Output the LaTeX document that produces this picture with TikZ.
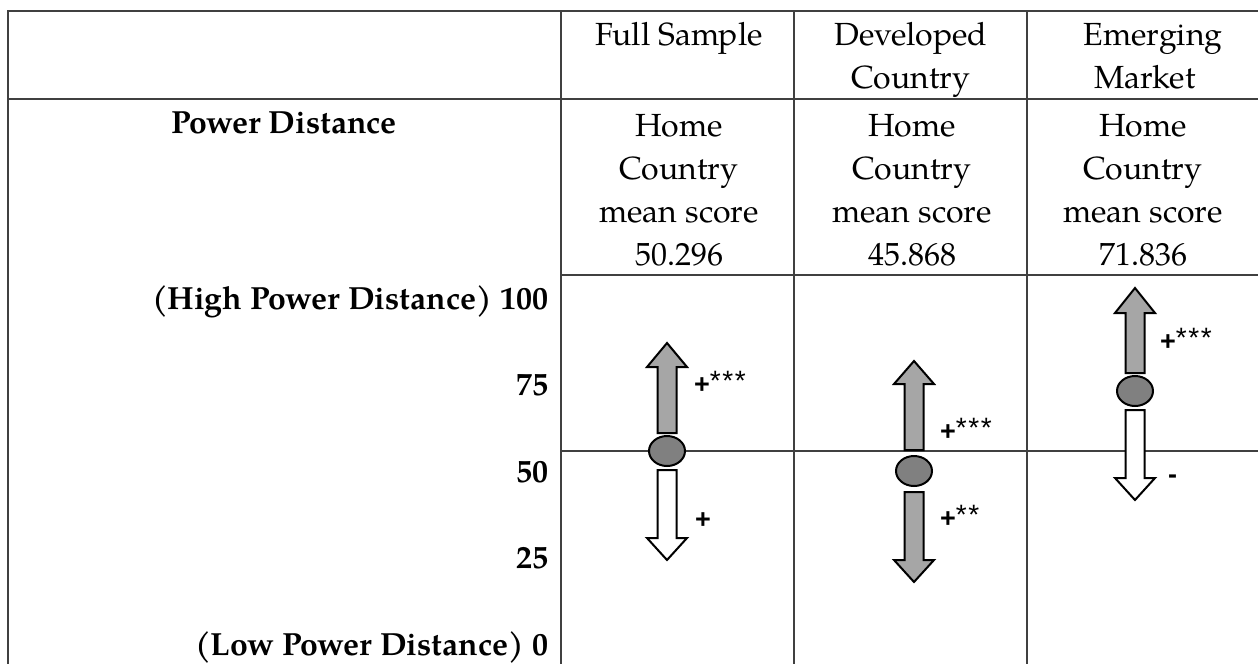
\documentclass[tikz,border=0pt]{standalone}
\usepackage{fontspec}
\setmainfont{TeX Gyre Pagella}
\newfontfamily\sigfont{Liberation Sans}
\usetikzlibrary{shapes.geometric}
\definecolor{rulegray}{HTML}{404040}
\definecolor{barfill}{HTML}{A6A6A6}
\definecolor{dotfill}{HTML}{808080}

% x, shaft end, head base, tip, fill
\newcommand{\blockarrow}[5]{%
  \draw[arrowbody,fill=#5] (#1-9.5,#2) -- (#1-9.5,#3) -- (#1-20,#3) -- (#1,#4)
    -- (#1+20,#3) -- (#1+9.5,#3) -- (#1+9.5,#2) -- cycle;}
\newcommand{\starsig}[1]{\raisebox{1.5pt}{\mdseries\fontsize{14}{15}\selectfont#1}}

\begin{document}
\begin{tikzpicture}[x=0.5pt,y=-0.5pt,
				every node/.style={inner sep=0pt,outer sep=0pt},
				cell/.style={font=\fontsize{16}{21.5}\selectfont,anchor=base},
				scalelabel/.style={font=\fontsize{16}{21.5}\selectfont\bfseries,anchor=base east},
				sig/.style={font=\sigfont\bfseries\fontsize{13.5}{15}\selectfont,anchor=base west},
				grid/.style={draw=rulegray,line width=0.75pt},
				arrowbody/.style={draw=black,line width=1pt,line join=miter},
				meanpt/.style={ellipse,draw=black,line width=1pt,fill=dotfill,minimum width=18pt,minimum height=15pt}]
				\useasboundingbox (0,0) rectangle (1258,664);
				
				% table rules
				\draw[grid] (1258,11) -- (8,11) -- (8,664);
				\draw[grid] (8,99) -- (1258,99);
				\foreach \cx in {561,794,1027}
					\draw[grid] (\cx,11) -- (\cx,664);
				\draw[grid] (561,275) -- (1258,275) (561,451) -- (1258,451);
				
				% header
				\node[cell] (full)  at (679,45) {Full Sample};
				\node[cell] (dev1)  at (911,45) {Developed};
				\node[cell] (dev2)  at (911,88) {Country};
				\node[cell] (emg1)  at (1153,45) {Emerging};
				\node[cell] (emg2)  at (1145,88) {Market};
				
				\foreach \cx/\score [count=\i] in {679/50.296,912/45.868,1143/71.836}{
					\node[cell] (home\i)  at (\cx,136) {Home};
					\node[cell] (ctry\i)  at (\cx,179) {Country};
					\node[cell] (mean\i)  at (\cx,222) {mean score};
					\node[cell] (score\i) at (\cx,265) {\score};
				}
				
				% scale
				\node[scalelabel,anchor=base west] (pdist) at (171,133) {Power Distance};
				\foreach \y/\t [count=\i] in {309/{(High Power Distance) 100},395/75,482/50,568/25,655/{(Low Power Distance) 0}}
					\node[scalelabel] (tick\i) at (548,\y) {\t};
				
				% full sample
				\blockarrow{667}{433}{367}{343}{barfill}
				\blockarrow{667}{470}{538}{560}{white}
				\node[meanpt] (fullmean) at (667,451) {};
				\node[sig] (fullup) at (694,393) {+\starsig{*\kern0.8pt*\kern0.8pt*}};
				\node[sig] (fulldn) at (695,528) {+};
				
				% developed
				\blockarrow{914}{450}{384}{361}{barfill}
				\blockarrow{914}{492}{560}{582}{barfill}
				\node[meanpt] (devmean) at (914,471) {};
				\node[sig] (devup) at (940,440) {+\starsig{*\kern0.8pt*\kern0.8pt*}};
				\node[sig] (devdn) at (940,527) {+\starsig{*\kern0.8pt*}};
				
				% emerging
				\blockarrow{1135}{373}{313}{288}{barfill}
				\blockarrow{1135}{410}{478}{500}{white}
				\node[meanpt] (emgmean) at (1135,391) {};
				\node[sig] (emgup) at (1160,350) {+\starsig{*\kern0.8pt*\kern0.8pt*}};
				\node[sig] (emgdn) at (1168,483) {-};
			\end{tikzpicture}
\end{document}
